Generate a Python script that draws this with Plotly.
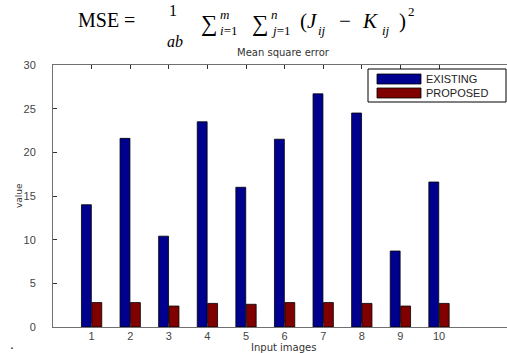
import plotly.graph_objects as go

# ---- data ----
categories = [1, 2, 3, 4, 5, 6, 7, 8, 9, 10]
existing = [14.0, 21.6, 10.4, 23.5, 16.0, 21.5, 26.7, 24.5, 8.7, 16.6]
proposed = [2.8, 2.8, 2.4, 2.7, 2.6, 2.8, 2.8, 2.7, 2.4, 2.7]
series_names = ["EXISTING", "PROPOSED"]
y_ticks = [0, 5, 10, 15, 20, 25, 30]
subtitle = "Mean square error"
x_title = "Input images"
y_title = "value"

BLUE = "rgb(0,0,143)"
RED = "rgb(128,0,0)"

W, H = 507, 353
L, R, T, B = 53, 0, 65, 26
PW, PH = W - L - R, H - T - B


def px(x):
    return (x - L) / PW


def py(y):
    return (H - B - y) / PH


fig = go.Figure()
fig.add_trace(go.Bar(x=categories, y=existing, name=series_names[0],
                     marker=dict(color=BLUE, line=dict(color="black", width=0.8)),
                     showlegend=False))
fig.add_trace(go.Bar(x=categories, y=proposed, name=series_names[1],
                     marker=dict(color=RED, line=dict(color="black", width=0.8)),
                     showlegend=False))

tickfont = dict(family="Liberation Sans", size=11, color="#444")
fig.update_layout(
    width=W, height=H,
    margin=dict(l=L, r=R, t=T, b=B, autoexpand=False),
    paper_bgcolor="white", plot_bgcolor="white",
    barmode="group", bargap=0.46, bargroupgap=0.05,
    showlegend=False,
    xaxis=dict(range=[0, (W - L) / 38.6], tickvals=categories, showline=True,
               linecolor="#707070", linewidth=1, mirror="ticks", ticks="inside",
               ticklen=4, tickcolor="#333", showgrid=False, zeroline=False,
               tickfont=tickfont, ticklabelstandoff=-1),
    yaxis=dict(range=[0, 30], tickvals=y_ticks, showline=True,
               linecolor="#707070", linewidth=1, mirror=False, ticks="inside",
               ticklen=4, tickcolor="#333", showgrid=False, zeroline=False,
               tickfont=tickfont, ticklabelstandoff=14),
)

annots = []
# subtitle, axis titles
annots.append(dict(x=px(283), y=py(53), text=subtitle, font=dict(family="DejaVu Sans", size=10, color="#333")))
annots.append(dict(x=px(283), y=py(347), text=x_title, font=dict(family="DejaVu Sans", size=10, color="#333")))
annots.append(dict(x=px(19), y=py(196), text=y_title, textangle=-90, font=dict(family="DejaVu Sans", size=9, color="#333")))
annots.append(dict(x=px(12), y=py(344), text=".", font=dict(family="Liberation Sans", size=14, color="#222")))

# formula pieces: (text, x_left, y_center, size)
formula = [
    ("MSE =", 76, 20, 20),
    ("1", 167, 10, 16),
    ("<i>ab</i>", 165, 41, 16),
    ("∑", 199, 23, 23),
    ("<i>m</i>", 218, 14, 13),
    ("<i>i</i>=1", 218, 31, 13),
    ("∑", 250, 23, 23),
    ("<i>n</i>", 269, 14, 13),
    ("<i>j</i>=1", 269, 31, 13),
    ("(<i>J</i>", 298, 21, 21),
    ("<i>ij</i>", 316, 31, 13),
    ("−", 337, 21, 21),
    ("<i>K</i>", 360, 21, 21),
    ("<i>ij</i>", 380, 31, 13),
    (")", 397, 21, 21),
    ("2", 406, 12, 13),
]
for t, x, y, s in formula:
    annots.append(dict(x=px(x), y=py(y), text=t, xanchor="left",
                       font=dict(family="Liberation Serif", size=s, color="black")))

# legend text
annots.append(dict(x=px(424), y=py(79), text=series_names[0], xanchor="left",
                   font=dict(family="Liberation Sans", size=11, color="#222")))
annots.append(dict(x=px(424), y=py(93), text=series_names[1], xanchor="left",
                   font=dict(family="Liberation Sans", size=11, color="#222")))

for a in annots:
    a.setdefault("xanchor", "center")
    a.update(xref="paper", yref="paper", yanchor="middle", showarrow=False)
fig.update_layout(annotations=annots)

shapes = [
    dict(type="rect", xref="paper", yref="paper", x0=px(368), x1=px(506), y0=py(69), y1=py(102),
         line=dict(color="black", width=1), fillcolor="white", layer="above"),
    dict(type="rect", xref="paper", yref="paper", x0=px(377), x1=px(421), y0=py(74), y1=py(84),
         line=dict(color="black", width=0.8), fillcolor=BLUE, layer="above"),
    dict(type="rect", xref="paper", yref="paper", x0=px(377), x1=px(421), y0=py(88), y1=py(98),
         line=dict(color="black", width=0.8), fillcolor=RED, layer="above"),
]
fig.update_layout(shapes=shapes)

fig.write_html("out.html", config={"displayModeBar": False},
               post_script="document.body.style.margin='0';document.body.style.overflow='hidden';")
